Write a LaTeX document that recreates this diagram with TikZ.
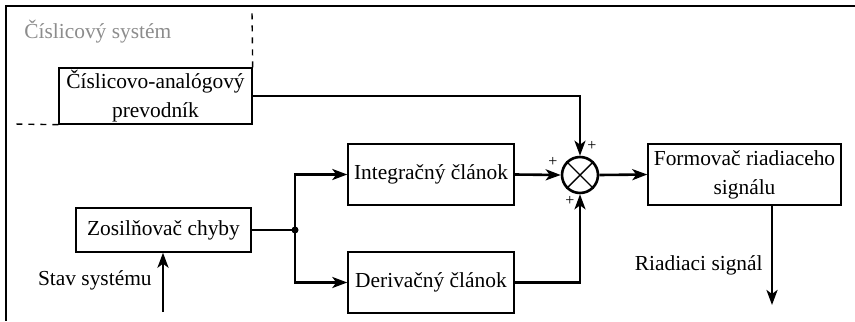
\documentclass[tikz,border=0pt]{standalone}
\usepackage{fontspec}
\setmainfont{Liberation Serif}
\usetikzlibrary{arrows.meta}
\definecolor{labelgray}{RGB}{140,140,140}

\tikzset{
    block/.style={draw, line width=0.7pt, inner sep=0pt, align=center,
        font=\fontsize{10.7}{14.5}\selectfont},
    conn/.style={line width=1.3pt, -{Stealth[length=7.5pt, width=5.5pt, inset=2pt]}},
    sign/.style={font=\fontsize{8}{8}\selectfont, inner sep=0pt},
    txt/.style={font=\fontsize{10.7}{14.5}\selectfont, inner sep=0pt}
}

\begin{document}
\begin{tikzpicture}[x=0.5pt, y=-0.5pt]
    \useasboundingbox (0,0) rectangle (855,321);
    % frame
    \draw[line width=1pt] (855,5.5) -- (5.5,5.5) -- (5.5,321);
    \node[txt, text=labelgray, anchor=west] (digsys) at (24,32) {Číslicový systém};

    % blocks
    \node[block, minimum width=96.5pt, minimum height=28pt] (dac) at (155.5,96)
        {Číslicovo-analógový\\prevodník};
    \node[block, minimum width=87.5pt, minimum height=22pt] (amp) at (163.5,230)
        {Zosilňovač chyby};
    \node[block, minimum width=83pt, minimum height=30.5pt] (integ) at (431,174.5)
        {Integračný článok};
    \node[block, minimum width=83pt, minimum height=30.5pt] (deriv) at (431,282.5)
        {Derivačný článok};
    \node[block, minimum width=96.5pt, minimum height=30.5pt] (shaper) at (744.5,174.5)
        {Formovač riadiaceho\\signálu};
    \node[draw, circle, line width=1.3pt, minimum size=18pt, inner sep=0pt] (sum) at (580,175) {};
    \draw[line width=0.7pt] (sum.45) -- (sum.225) (sum.135) -- (sum.315);

    % boundary of the digital part
    \draw[dashed, line width=0.7pt] (dac.north east) -- (252,12);
    \draw[dashed, line width=0.7pt] (dac.south west) -- (14,124);

    % signal paths
    \coordinate (split) at (295,230);
    \coordinate (in) at (163,312);
    \coordinate (out) at (772,305);
    \draw[conn] (in) -- (in |- amp.south);
    \node[txt, anchor=east] (state) at (152,280) {Stav systému};
    \draw[line width=1.3pt] (amp.east) -- (split);
    \fill (split) circle (3.5);
    \draw[conn] (split) |- (integ.west);
    \draw[conn] (split) |- (deriv.west);
    \draw[conn] (dac.east) -| (sum.north);
    \draw[conn] (integ.east) -- (sum.west);
    \draw[conn] (deriv.east) -| (sum.south);
    \draw[conn] (sum.east) -- (shaper.west);
    \draw[conn] (shaper.south -| out) -- (out);
    \node[txt, anchor=east] (ctrl) at (763,265) {Riadiaci signál};

    % signs at the summing junction
    \node[sign] (ptop) at (592,146) {+};
    \node[sign] (pleft) at (553,162) {+};
    \node[sign] (pbot) at (570,201) {+};
\end{tikzpicture}
\end{document}
